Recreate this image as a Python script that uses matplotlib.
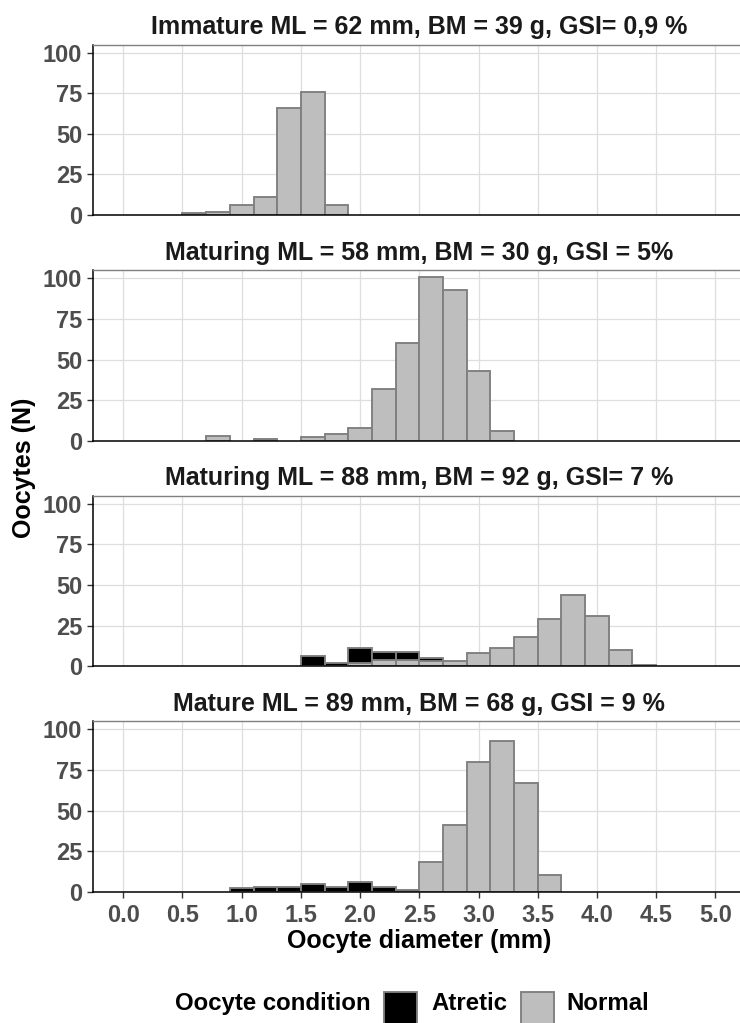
import numpy as np
import matplotlib
matplotlib.use("Agg")
import matplotlib.pyplot as plt
from matplotlib.patches import Rectangle

plt.rcParams["font.family"] = ["Liberation Sans", "DejaVu Sans"]

# bin centres (mm), bins are 0.2 mm wide
bin_centres = np.round(np.arange(0.0, 5.01, 0.2), 1)

titles = [
    "Immature ML = 62 mm, BM = 39 g, GSI= 0,9 %",
    "Maturing ML = 58 mm, BM = 30 g, GSI = 5%",
    "Maturing ML = 88 mm, BM = 92 g, GSI= 7 %",
    "Mature ML = 89 mm, BM = 68 g, GSI = 9 %",
]

# counts per bin centre {centre: count}
normal_counts = [
    {0.6: 1, 0.8: 2, 1.0: 6, 1.2: 11, 1.4: 66, 1.6: 76, 1.8: 6},
    {0.8: 3, 1.2: 1, 1.6: 2, 1.8: 4, 2.0: 8, 2.2: 32, 2.4: 60, 2.6: 101,
     2.8: 93, 3.0: 43, 3.2: 6},
    {2.0: 2, 2.2: 4, 2.4: 4, 2.6: 3, 2.8: 3, 3.0: 8, 3.2: 11, 3.4: 18,
     3.6: 29, 3.8: 44, 4.0: 31, 4.2: 10, 4.4: 1},
    {2.6: 18, 2.8: 41, 3.0: 80, 3.2: 93, 3.4: 67, 3.6: 10},
]
atretic_counts = [
    {},
    {},
    {1.6: 6, 1.8: 2, 2.0: 9, 2.2: 5, 2.4: 5, 2.6: 2},
    {1.0: 2, 1.2: 3, 1.4: 3, 1.6: 5, 1.8: 3, 2.0: 6, 2.2: 3, 2.4: 1},
]

x_ticks = np.arange(0, 5.01, 0.5)
y_ticks = [0, 25, 50, 75, 100]

W, H = 740, 1023
fig = plt.figure(figsize=(W / 100, H / 100), dpi=100)

panel_bottoms = [215, 440.7, 666.2, 891.7]
panel_h = 170.5
left_px, width_px = 93.3, 652.0

normal_fill = "#BEBEBE"
atretic_fill = "#000000"
edge = "#7F7F7F"
tick_grey = "#4D4D4D"

for i, title in enumerate(titles):
    ax = fig.add_axes([left_px / W, 1 - panel_bottoms[i] / H, width_px / W, panel_h / H])
    normal = np.array([normal_counts[i].get(c, 0) for c in bin_centres])
    atretic = np.array([atretic_counts[i].get(c, 0) for c in bin_centres])

    keep = normal > 0
    ax.bar(bin_centres[keep], normal[keep], width=0.2, color=normal_fill,
           edgecolor=edge, linewidth=1.35, zorder=2)
    keep = atretic > 0
    ax.bar(bin_centres[keep], atretic[keep], width=0.2, bottom=normal[keep],
           color=atretic_fill, edgecolor=edge, linewidth=1.35, zorder=2)

    ax.set_xlim(-0.253, 5.253)
    ax.set_ylim(0, 105)
    ax.set_xticks(x_ticks)
    ax.set_yticks(y_ticks)
    ax.set_axisbelow(True)
    ax.grid(True, color="#DEDEDE", linewidth=0.9)

    for side in ["left", "bottom"]:
        ax.spines[side].set_color("black")
        ax.spines[side].set_linewidth(1.1)
    ax.spines["top"].set_color("#808080")
    ax.spines["top"].set_linewidth(1.0)
    ax.spines["right"].set_visible(False)

    ax.tick_params(axis="y", length=4.3, width=1.0, color="#333333", pad=3.8,
                   labelsize=17, labelcolor=tick_grey)
    for lab in ax.get_yticklabels():
        lab.set_fontweight("bold")

    if i == len(titles) - 1:
        ax.set_xticklabels([f"{v:.1f}" for v in x_ticks])
        ax.tick_params(axis="x", length=4.0, width=1.0, color="#333333", pad=5,
                       labelsize=17, labelcolor=tick_grey)
        for lab in ax.get_xticklabels():
            lab.set_fontweight("bold")
    else:
        ax.tick_params(axis="x", length=0, labelbottom=False)

    ax.annotate(title, xy=(0.5, 1), xycoords="axes fraction", xytext=(0, 7.7),
                textcoords="offset points", ha="center", va="baseline",
                fontsize=18, fontweight="bold", color="#1A1A1A")

fig.text(24 / W, 1 - 468 / H, "Oocytes (N)", rotation=90, ha="center", va="center",
         fontsize=18, fontweight="bold", color="black")
fig.text(419.3 / W, 1 - 948 / H, "Oocyte diameter (mm)", ha="center", va="baseline",
         fontsize=18, fontweight="bold", color="black")

# legend drawn at the bottom
fig.text(175 / W, 1 - 1010 / H, "Oocyte condition", ha="left", va="baseline",
         fontsize=17.3, fontweight="bold", color="black")
key_size = 33
for x0, fill in [(384.3, atretic_fill), (521.0, normal_fill)]:
    fig.patches.append(Rectangle((x0 / W, 1 - (991.7 + key_size) / H), key_size / W, key_size / H,
                                 transform=fig.transFigure, facecolor=fill,
                                 edgecolor=edge, linewidth=1.35))
fig.text(431.7 / W, 1 - 1010 / H, "Atretic", ha="left", va="baseline",
         fontsize=17.3, fontweight="bold", color="black")
fig.text(566.7 / W, 1 - 1010 / H, "Normal", ha="left", va="baseline",
         fontsize=17.3, fontweight="bold", color="black")

fig.savefig("out.png", dpi=100)
plt.close(fig)
